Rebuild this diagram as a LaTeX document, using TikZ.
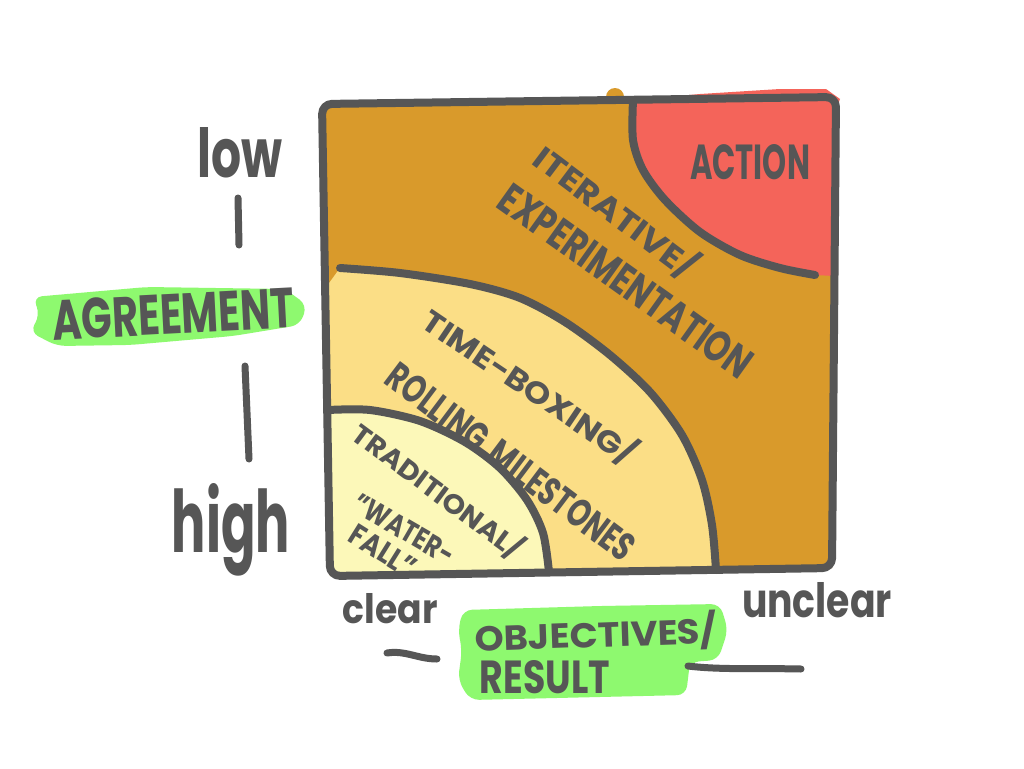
\documentclass[tikz,border=0pt]{standalone}
\usepackage{fontspec}
\setmainfont{Poppins}
\usepackage{graphicx}
\definecolor{ink}{HTML}{565656}
\definecolor{iterc}{HTML}{D99A2B}
\definecolor{actc}{HTML}{F4645A}
\definecolor{timec}{HTML}{FBDE86}
\definecolor{tradc}{HTML}{FCF8B9}
\definecolor{hlgreen}{HTML}{8EF96F}
\begin{document}
\begin{tikzpicture}[x=1pt,y=-1pt,
  edge/.style={draw=ink,line width=8pt,line cap=round,line join=round},
  tick/.style={draw=ink,line width=7pt,line cap=round},
  caps/.style={text=ink,inner sep=0pt,font=\bfseries},
  lower/.style={text=ink,inner sep=0pt,anchor=base,font=\bfseries},
  hl/.style={fill=hlgreen,rounded corners=9pt}]
\useasboundingbox[fill=white] (0,0) rectangle (1024,768);
% --- fills ---
\fill[actc] (645,99) -- (700,94) -- (780,89) -- (826,89) -- (840,99) -- (836,110) -- (640,106) -- cycle;
\fill[iterc] (615,97) circle (9);
\fill[iterc] (322,104) -- (836,97) -- (832,568) -- (330,576) -- cycle;
\fill[actc] (633,100) -- plot[smooth] coordinates {(633,100) (633,140) (643,170) (665,200) (700,232) (740,255) (780,268) (815,275)} -- (834,276) -- (836,97) -- cycle;
\fill[timec] (324,290) -- plot[smooth] coordinates {(340,268) (400,273) (470,284) (520,298) (565,322) (610,355) (650,392) (682,435) (702,480) (712,525) (716,570)} -- (330,576) -- cycle;
\fill[tradc] (328,410) -- plot[smooth] coordinates {(328,410) (370,410) (420,421) (465,442) (500,468) (527,500) (543,533) (549,572)} -- (330,576) -- cycle;
% --- boundaries ---
\draw[edge] plot[smooth] coordinates {(633,100) (633,140) (643,170) (665,200) (700,232) (740,255) (780,268) (815,275)};
\draw[edge] plot[smooth] coordinates {(340,268) (400,273) (470,284) (520,298) (565,322) (610,355) (650,392) (682,435) (702,480) (712,525) (716,570)};
\draw[edge] plot[smooth] coordinates {(328,410) (370,410) (420,421) (465,442) (500,468) (527,500) (543,533) (549,572)};
\draw[edge,rounded corners=10pt] (322,104) -- (836,97) -- (832,568) -- (330,576) -- cycle;
% --- region labels ---
\node[caps] (action) at (750,162) {\resizebox{120pt}{35pt}{ACTION}};
\node[caps,rotate=-37] (iter) at (616,212) {\resizebox{195pt}{31pt}{ITERATIVE/}};
\node[caps,rotate=-35.5] (exper) at (626,281) {\resizebox{300pt}{31pt}{EXPERIMENTATION}};
\node[caps,rotate=-34] (timebox) at (530,387) {\resizebox{250pt}{29pt}{TIME-BOXING/}};
\node[caps,rotate=-37] (rolling) at (511,462) {\resizebox{300pt}{28pt}{ROLLING\hspace{0.35em}MILESTONES}};
\node[caps,rotate=-36.5] (trad) at (438,491) {\resizebox{205pt}{26pt}{TRADITIONAL/}};
\node[caps,rotate=-30] (water) at (404,529) {\resizebox{112pt}{21pt}{"WATER-}};
\node[caps,rotate=-32] (fall) at (383,551) {\resizebox{72pt}{21pt}{FALL"}};
% --- vertical axis ---
\fill[hl] (33,297) -- (147,287) -- (285,289) -- (307,305) -- (300,325) -- (233,336) -- (130,345) -- (57,346) -- (30,332) -- (40,315) -- cycle;
\node[caps,rotate=3] (agree) at (173,314) {\resizebox{242pt}{40pt}{AGREEMENT}};
\node[lower] (low) at (240,177) {\resizebox{85pt}{50pt}{low}};
\node[lower] (high) at (231,552) {\resizebox{118pt}{69pt}{high}};
\coordinate (t1a) at (238,198);
\coordinate (t1b) at (239,245);
\coordinate (t2a) at (245,366);
\coordinate (t2b) at (249,459);
\draw[tick] (t1a) -- (t1b);
\draw[tick] (t2a) -- (t2b);
% --- horizontal axis ---
\fill[hl] (463,610) -- (600,606) -- (720,604) -- (728,630) -- (718,660) -- (690,662) -- (686,695) -- (470,700) -- (458,680) -- (462,650) -- (458,630) -- cycle;
\node[caps,rotate=2] (obj) at (596,634) {\resizebox{242pt}{33pt}{OBJECTIVES/}};
\node[caps] (result) at (545,677) {\resizebox{130pt}{33pt}{RESULT}};
\node[lower] (clear) at (390,623) {\resizebox{95pt}{30pt}{clear}};
\node[lower] (unclear) at (817,617) {\resizebox{150pt}{35pt}{unclear}};
\coordinate (d1a) at (387,653);
\coordinate (d1b) at (437,659);
\coordinate (d2a) at (688,666);
\coordinate (d2b) at (801,669);
\draw[tick] (d1a) .. controls (405,650) and (418,659) .. (d1b);
\draw[tick] (d2a) .. controls (720,670) and (760,668) .. (d2b);
\end{tikzpicture}
\end{document}
